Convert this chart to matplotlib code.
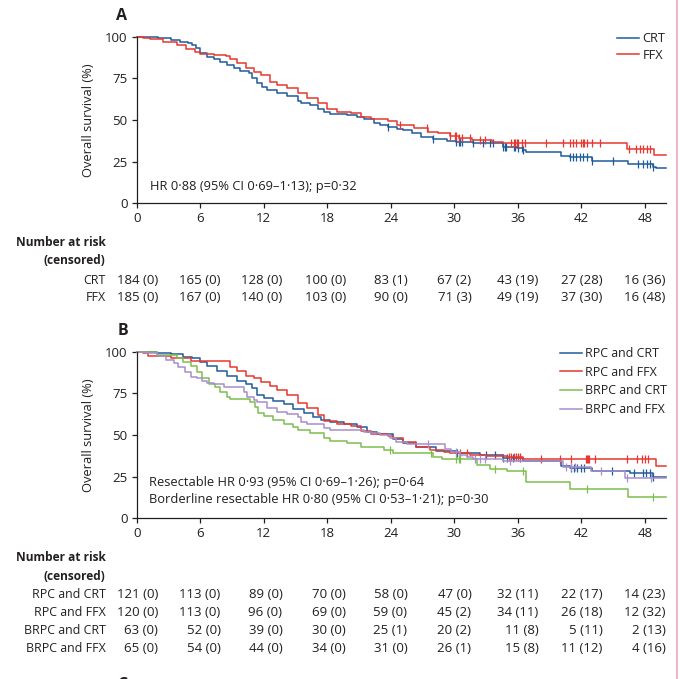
import numpy as np
import matplotlib
matplotlib.use('Agg')
import matplotlib.pyplot as plt
from matplotlib.transforms import blended_transform_factory

plt.rcParams['font.family'] = ['Open Sans', 'DejaVu Sans']
plt.rcParams['font.size'] = 9.5

#%% data
months = [0, 6, 12, 18, 24, 30, 36, 42, 48]

# panel A
crt_t = [0, 2.0, 3.2, 4.1, 4.8, 5.2, 5.6, 6.0, 6.6, 7.3, 7.9, 8.5, 9.2, 9.8, 10.6, 10.9,
         11.4, 11.8, 12.3, 13.3, 14.2, 15.2, 15.5, 16.4, 17.1, 17.7, 18.3, 19.9, 20.8,
         21.5, 22.4, 23.0, 23.7, 24.6, 25.2, 26.0, 26.9, 28.0, 29.3, 30.2, 31.8, 33.4,
         34.6, 35.9, 36.5, 36.8, 40.1, 40.9, 43.0, 46.4, 48.8, 49.1, 50]
crt_s = [100, 99, 98, 97, 96, 95, 93, 90, 88, 86.4, 85, 83, 81, 79.6, 78, 75,
         72, 69.6, 68, 66.4, 64.4, 61.6, 60, 59, 56.4, 55, 53.6, 52.8, 51.6,
         50.4, 48, 47, 46, 44.8, 44, 42, 39.6, 38.4, 37.6, 37, 36.4, 36,
         34, 33, 32, 30.6, 28.4, 27.6, 25.6, 23.6, 22, 21, 21]
crt_cens = [23.7, 28.0, 30.2, 30.4, 30.5, 30.7, 31.8, 32.7, 33.4, 33.7, 34.6, 34.8, 34.9,
            35.6, 35.7, 36.0, 36.4, 36.5, 40.9, 41.2, 41.5, 41.9, 42.2, 42.5, 43.0, 45.0,
            47.4, 47.8, 48.2, 48.5, 48.8]

ffx_t = [0, 0.6, 1.3, 2.5, 3.8, 4.7, 5.5, 6.0, 7.3, 8.4, 8.8, 9.5, 10.3, 11.1, 11.7, 12.6,
         13.3, 14.2, 15.2, 16.1, 17.1, 18.0, 18.9, 20.2, 21.2, 22.1, 23.7, 24.6, 26.2,
         27.5, 28.5, 29.6, 30.4, 31.7, 33.6, 34.6, 36.5, 46.3, 48.9, 50]
ffx_s = [100, 99.4, 98.4, 97, 95, 92.6, 91, 89.6, 89.2, 88.4, 86.4, 84.4, 81, 79, 77, 73,
         71, 69, 66, 63, 60, 56.4, 55, 54, 51.6, 50.4, 49.6, 47, 45,
         43, 42, 40.4, 39.4, 38, 37, 36.4, 36, 32.4, 29, 29]
ffx_cens = [24.9, 27.4, 29.6, 30.1, 30.2, 30.4, 30.7, 31.5, 32.4, 32.9, 35.4, 35.6, 35.7,
            35.9, 36.0, 36.4, 36.7, 38.7, 40.3, 40.9, 41.2, 41.5, 42.0, 42.2, 42.3, 42.5,
            43.0, 43.8, 46.5, 47.2, 47.5, 47.8, 48.2, 48.5]

risk_a_labels = ['CRT', 'FFX']
risk_a = [['184 (0)', '165 (0)', '128 (0)', '100 (0)', '83 (1)', '67 (2)', '43 (19)', '27 (28)', '16 (36)'],
          ['185 (0)', '167 (0)', '140 (0)', '103 (0)', '90 (0)', '71 (3)', '49 (19)', '37 (30)', '16 (48)']]

# panel B
rpc_crt_t = [0, 1.9, 3.2, 4.4, 5.2, 6.0, 6.6, 7.6, 8.5, 9.5, 10.3, 10.9, 11.4, 12.0, 12.9,
             13.9, 14.8, 15.8, 16.7, 17.4, 18.3, 19.6, 20.8, 21.8, 22.7, 24.2, 25.2, 26.4,
             28.3, 30.2, 32.4, 34.6, 36.5, 40.1, 40.9, 43.0, 46.6, 48.8, 50]
rpc_crt_s = [100, 99.2, 98.4, 97, 96, 93.6, 91.6, 88.4, 85.6, 82.4, 80.4, 78, 74, 72.4, 70.4,
             68.4, 65.6, 63, 61, 59, 58, 56.4, 55, 51.6, 50.4, 47.4, 45, 42.6,
             40.6, 39, 38, 36, 34.4, 31.4, 30, 28.6, 27.4, 24.6, 24.6]
rpc_crt_cens = [30.3, 33.0, 33.8, 34.6, 35.0, 35.5, 36.2, 41.0, 41.3, 41.6, 42.0, 42.3,
                44.9, 47.0, 47.8, 48.1, 48.5, 48.8]

rpc_ffx_t = [0, 0.6, 1.1, 3.2, 5.1, 8.8, 9.5, 10.3, 11.1, 11.7, 12.6, 13.3, 14.2, 15.2,
             16.1, 17.1, 17.7, 18.9, 20.2, 21.2, 22.1, 23.7, 24.2, 25.2, 26.4, 27.7, 29.0,
             29.6, 31.5, 33.0, 35.0, 36.5, 49.1, 50]
rpc_ffx_s = [100, 99, 97.4, 96, 94.6, 91, 88.4, 85.6, 84, 82, 79.6, 77, 74, 69,
             66, 62, 58.4, 56.6, 55.4, 52.4, 50.4, 49.4, 48, 46, 43, 41, 40,
             39, 38, 37.4, 37, 35.6, 31.4, 31.4]
rpc_ffx_cens = [30.5, 31.2, 35.2, 35.4, 35.6, 35.8, 36.0, 36.2, 38.2, 40.0, 41.0, 42.4,
                42.5, 42.6, 42.7, 43.3, 46.3, 47.3, 47.7, 48.0, 48.3]

brpc_crt_t = [0, 1.9, 3.8, 4.4, 5.1, 5.7, 6.2, 6.8, 7.4, 7.9, 8.5, 8.8, 10.7, 11.2, 11.5,
              12.0, 12.9, 13.9, 14.8, 15.2, 16.4, 17.7, 18.3, 19.9, 21.2, 23.4, 24.2, 28.0,
              28.8, 32.1, 33.4, 35.0, 36.8, 40.9, 46.4, 50]
brpc_crt_s = [100, 98, 96, 94, 91.6, 88, 84, 80.4, 79, 76, 73, 71.6, 70, 67, 63,
              61.6, 59, 56.4, 55, 53, 51, 48.4, 46.4, 45, 43, 41, 39, 37,
              35.4, 32, 29.4, 28.4, 21.8, 17.4, 13, 13]
brpc_crt_cens = [23.9, 27.8, 30.2, 30.4, 30.5, 33.8, 36.5, 42.5, 48.8]

brpc_ffx_t = [0, 0.9, 1.9, 2.8, 3.5, 3.9, 4.6, 5.1, 5.7, 6.2, 6.6, 7.3, 8.2, 10.1, 10.4,
              11.1, 11.4, 12.3, 13.3, 14.2, 15.2, 15.5, 16.1, 17.7, 18.3, 21.5, 22.1, 23.0,
              23.9, 24.5, 25.5, 29.1, 29.7, 30.5, 31.2, 31.8, 34.6, 40.3, 42.9, 46.1, 50]
brpc_ffx_s = [100, 99, 97.6, 95, 93, 91, 88, 85, 84, 82.4, 81, 80.4, 79, 76, 73,
              71, 69.6, 66.4, 64, 62.4, 61, 58, 56.4, 54, 53, 52, 51, 50,
              48, 46, 44.6, 41.4, 40, 38, 36.6, 35.4, 34.6, 31, 28.6, 24, 24]
brpc_ffx_cens = [27.5, 30.2, 32.0, 32.4, 32.9, 35.3, 40.6, 41.0, 41.4, 43.9, 46.3, 48.6]

risk_b_labels = ['RPC and CRT', 'RPC and FFX', 'BRPC and CRT', 'BRPC and FFX']
risk_b = [['121 (0)', '113 (0)', '89 (0)', '70 (0)', '58 (0)', '47 (0)', '32 (11)', '22 (17)', '14 (23)'],
          ['120 (0)', '113 (0)', '96 (0)', '69 (0)', '59 (0)', '45 (2)', '34 (11)', '26 (18)', '12 (32)'],
          ['63 (0)', '52 (0)', '39 (0)', '30 (0)', '25 (1)', '20 (2)', '11 (8)', '5 (11)', '2 (13)'],
          ['65 (0)', '54 (0)', '44 (0)', '34 (0)', '31 (0)', '26 (1)', '15 (8)', '11 (12)', '4 (16)']]

#%% styles
c_blue = '#1f5b9a'
c_red = '#e8372f'
c_green = '#7dbd4f'
c_purple = '#a68fcc'
c_text = '#231f20'

W, H = 680, 679
def fy(px):
    return 1 - px / H

fig = plt.figure(figsize=(W / 100, H / 100), dpi=100)
fig.patch.set_facecolor('white')

ax_a = fig.add_axes([136.7 / W, fy(203.3), 529.3 / W, 166.6 / H])
ax_b = fig.add_axes([136.7 / W, fy(518.3), 529.3 / W, 166.6 / H])


def km(ax, t, s, cens, color, label):
    t = np.asarray(t)
    s = np.asarray(s)
    ax.step(t, s, where='post', color=color, lw=1.1, label=label, clip_on=False)
    idx = np.searchsorted(t, cens, side='right') - 1
    ax.plot(cens, s[idx], ls='none', marker='|', ms=6, mew=0.9, color=color,
            clip_on=False)


def style(ax):
    ax.set_xlim(0, 50)
    ax.set_ylim(0, 100)
    ax.set_xticks(months)
    ax.set_yticks([0, 25, 50, 75, 100])
    for sp in ['top', 'right']:
        ax.spines[sp].set_visible(False)
    for sp in ['left', 'bottom']:
        ax.spines[sp].set_linewidth(0.9)
        ax.spines[sp].set_color(c_text)
    ax.tick_params(direction='out', length=3.5, width=0.9, colors=c_text,
                   labelsize=9.5, pad=3)
    ax.set_ylabel('Overall survival (%)', color=c_text, fontsize=9.3)
    ax.yaxis.set_label_coords(-0.079, 0.5)


km(ax_a, crt_t, crt_s, crt_cens, c_blue, 'CRT')
km(ax_a, ffx_t, ffx_s, ffx_cens, c_red, 'FFX')
style(ax_a)
ax_a.text(1.25, 10, 'HR 0·88 (95% CI 0·69–1·13); p=0·32', va='center',
          color=c_text, fontsize=9.3)
ax_a.legend(loc='upper left', bbox_to_anchor=(0.9074, 1.028), frameon=False,
            borderpad=0, borderaxespad=0, handlelength=1.7, handletextpad=0.3,
            labelspacing=0.3, fontsize=9.2, labelcolor=c_text)

km(ax_b, rpc_crt_t, rpc_crt_s, rpc_crt_cens, c_blue, 'RPC and CRT')
km(ax_b, rpc_ffx_t, rpc_ffx_s, rpc_ffx_cens, c_red, 'RPC and FFX')
km(ax_b, brpc_crt_t, brpc_crt_s, brpc_crt_cens, c_green, 'BRPC and CRT')
km(ax_b, brpc_ffx_t, brpc_ffx_s, brpc_ffx_cens, c_purple, 'BRPC and FFX')
style(ax_b)
ax_b.text(1.2, 21.4, 'Resectable HR 0·93 (95% CI 0·69–1·26); p=0·64', va='center',
          color=c_text, fontsize=9.3)
ax_b.text(1.2, 11, 'Borderline resectable HR 0·80 (95% CI 0·53–1·21); p=0·30',
          va='center', color=c_text, fontsize=9.3)
ax_b.legend(loc='upper left', bbox_to_anchor=(0.7997, 1.027), frameon=False,
            borderpad=0, borderaxespad=0, handlelength=1.75, handletextpad=0.3,
            labelspacing=0.45, fontsize=8.9, labelcolor=c_text)

# panel letters
fig.text(116 / W, fy(20), 'A', fontsize=11.5, fontweight='bold', color=c_text)
fig.text(118 / W, fy(335), 'B', fontsize=11.5, fontweight='bold', color=c_text)
fig.text(117 / W, fy(689), 'C', fontsize=11.5, fontweight='bold', color=c_text)

# number at risk tables
col_off = [21.4, 20.4, 18.7, 18.6, 16.7, 17.2, 20.8, 21.4, 20.6]  # px right of tick
px_per_month = 529.3 / 50


def risk_table(ax, y_head, y_rows, labels, rows):
    tr = blended_transform_factory(ax.transData, fig.transFigure)
    fig.text(105.5 / W, fy(y_head), 'Number at risk', ha='right', va='center',
             fontweight='bold', color=c_text, fontsize=8.6)
    fig.text(105.5 / W, fy(y_head + 18.5), '(censored)', ha='right', va='center',
             fontweight='bold', color=c_text, fontsize=8.6)
    for yr, lab, vals in zip(y_rows, labels, rows):
        fig.text(105.5 / W, fy(yr), lab, ha='right', va='center', color=c_text,
                 fontsize=8.9)
        for m, off, v in zip(months, col_off, vals):
            ax.text(m + off / px_per_month, fy(yr), v, transform=tr, ha='right',
                    va='center', color=c_text)


risk_table(ax_a, 242, [280, 297.3], risk_a_labels, risk_a)
risk_table(ax_b, 557.5, [595, 612.3, 630, 648.3], risk_b_labels, risk_b)

# page border at the right edge
fig.add_artist(plt.Line2D([677.3 / W, 677.3 / W], [0, 1], color='#e9a8bf', lw=1.2))

fig.savefig('out.png', dpi=100, facecolor='white')
